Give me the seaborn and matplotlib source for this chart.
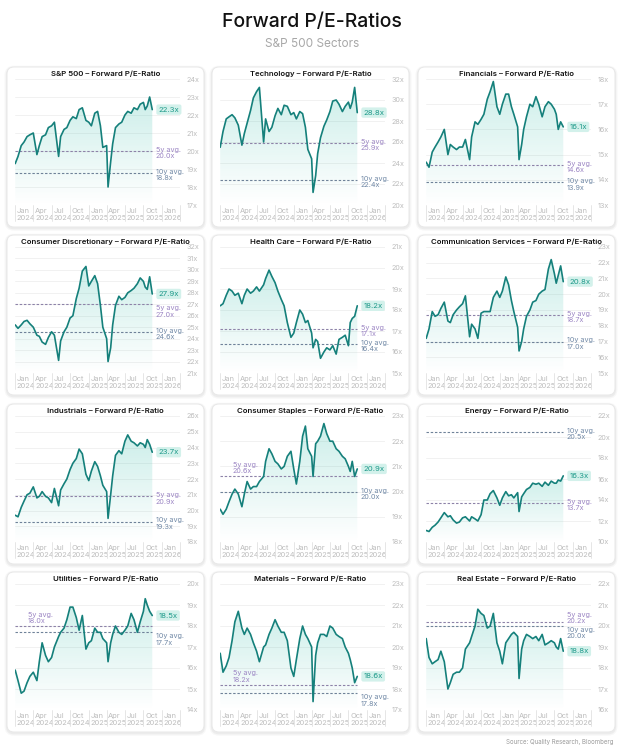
# ============================================================
# Forward P/E-Ratios of the S&P 500 sectors - small multiples
# ============================================================

import matplotlib
matplotlib.use("Agg")

import numpy as np
import pandas as pd
import matplotlib.pyplot as plt
import matplotlib.dates as mdates
from matplotlib.colors import to_rgb
from matplotlib.patches import FancyBboxPatch
from matplotlib.transforms import ScaledTranslation, blended_transform_factory
import seaborn as sns


# ============================================================
# 1. Data
# ============================================================

DATES = [
    "2024-01-02", "2024-01-16", "2024-02-01", "2024-02-15", "2024-03-01",
    "2024-03-15", "2024-04-01", "2024-04-19", "2024-05-01", "2024-05-15",
    "2024-06-01", "2024-06-15", "2024-07-01", "2024-07-15", "2024-08-05",
    "2024-08-15", "2024-09-01", "2024-09-15", "2024-10-01", "2024-10-15",
    "2024-11-01", "2024-11-15", "2024-12-01", "2024-12-19", "2025-01-02",
    "2025-01-15", "2025-02-01", "2025-02-15", "2025-03-01", "2025-03-13",
    "2025-04-01", "2025-04-08", "2025-04-21", "2025-05-01", "2025-05-15",
    "2025-06-01", "2025-06-15", "2025-07-01", "2025-07-15", "2025-08-01",
    "2025-08-15", "2025-09-01", "2025-09-15", "2025-10-01", "2025-10-10",
    "2025-10-20", "2025-11-01", "2025-11-14",
]

SP500 = [
    19.3, 19.7, 20.3, 20.5, 20.8, 20.9, 21.0, 19.8, 20.3, 20.8,
    20.9, 21.3, 21.4, 21.6, 19.7, 20.8, 21.2, 21.3, 21.7, 21.9,
    21.8, 22.3, 22.4, 21.7, 21.6, 21.4, 22.1, 22.2, 21.4, 20.2,
    20.3, 18.0, 19.4, 20.4, 21.3, 21.5, 21.6, 22.0, 22.2, 22.1,
    22.4, 22.3, 22.6, 22.7, 22.3, 22.5, 23.0, 22.3,
]
TECHNOLOGY = [
    25.5, 27.0, 28.2, 28.4, 28.6, 28.3, 27.6, 25.7, 26.8, 27.8,
    29.0, 30.2, 30.8, 31.2, 26.0, 28.2, 27.0, 27.4, 28.5, 29.2,
    28.6, 29.5, 29.4, 28.6, 28.8, 28.2, 28.9, 28.7, 27.4, 25.3,
    24.4, 21.2, 22.8, 24.9, 26.4, 27.5, 28.1, 28.9, 29.9, 30.0,
    29.6, 28.9, 29.4, 29.8, 29.2, 29.8, 31.2, 28.8,
]
FINANCIALS = [
    14.7, 14.5, 15.1, 15.3, 15.5, 15.7, 16.0, 15.0, 15.4, 15.3,
    15.2, 15.3, 15.3, 15.6, 14.8, 15.7, 16.3, 16.2, 16.4, 16.6,
    17.2, 17.5, 17.9, 16.9, 16.6, 17.0, 17.4, 17.4, 16.9, 16.6,
    16.1, 14.8, 15.4, 16.0, 16.5, 17.0, 16.9, 17.3, 17.0, 16.5,
    16.9, 17.1, 17.0, 16.8, 16.6, 16.0, 16.3, 16.1,
]
CONSUMER_DISCRETIONARY = [
    25.2, 24.9, 25.2, 25.5, 25.6, 25.3, 25.0, 24.3, 24.2, 23.7,
    23.5, 24.1, 24.6, 24.3, 22.1, 23.8, 24.6, 25.0, 25.8, 26.0,
    27.5, 28.4, 29.9, 30.3, 28.6, 29.0, 29.5, 28.8, 26.9, 25.0,
    24.0, 22.0, 23.2, 25.2, 26.9, 27.7, 27.4, 27.6, 28.0, 28.2,
    28.4, 28.8, 29.3, 29.0, 28.5, 28.3, 29.4, 27.9,
]
HEALTH_CARE = [
    18.2, 18.3, 18.7, 19.0, 18.9, 18.7, 18.8, 18.3, 18.7, 19.0,
    18.8, 18.9, 19.1, 18.9, 19.2, 19.5, 19.9, 19.6, 19.3, 18.9,
    18.5, 18.2, 17.4, 16.7, 16.9, 17.4, 18.0, 17.8, 17.4, 17.5,
    16.9, 16.2, 16.6, 16.5, 15.7, 16.0, 16.2, 16.1, 16.3, 15.9,
    16.6, 16.7, 16.8, 16.3, 17.4, 17.6, 17.7, 18.2,
]
COMMUNICATION_SERVICES = [
    17.2, 17.8, 18.9, 18.6, 18.7, 19.1, 19.5, 18.3, 18.2, 18.7,
    19.0, 19.2, 19.4, 19.9, 17.3, 18.1, 17.8, 17.2, 18.8, 18.9,
    18.9, 18.9, 19.8, 20.2, 19.8, 20.2, 21.1, 20.6, 19.6, 18.9,
    17.9, 16.4, 17.0, 17.8, 18.6, 19.0, 19.5, 19.6, 20.0, 20.2,
    20.3, 21.6, 22.2, 21.3, 20.7, 21.2, 21.8, 20.8,
]
INDUSTRIALS = [
    19.7, 19.6, 20.2, 20.6, 21.0, 21.1, 21.5, 20.8, 20.9, 21.2,
    20.9, 20.8, 20.5, 21.4, 20.3, 21.3, 21.7, 22.0, 22.6, 23.0,
    23.3, 23.9, 23.6, 22.3, 21.9, 22.5, 23.1, 22.8, 22.2, 21.6,
    21.2, 19.5, 21.0, 22.2, 23.5, 23.8, 23.6, 24.4, 24.8, 24.4,
    24.3, 24.1, 24.3, 24.2, 24.0, 24.5, 24.2, 23.7,
]
CONSUMER_STAPLES = [
    19.3, 19.1, 19.3, 19.6, 19.9, 20.1, 19.9, 19.4, 19.9, 20.4,
    20.1, 20.2, 20.2, 20.4, 20.6, 21.2, 21.7, 21.5, 21.2, 21.1,
    20.9, 21.0, 21.4, 21.6, 20.9, 20.3, 21.2, 22.2, 22.6, 21.7,
    21.4, 20.6, 21.9, 22.0, 22.2, 22.7, 22.3, 22.0, 22.0, 21.7,
    21.6, 21.4, 21.3, 21.0, 20.8, 21.2, 20.6, 20.9,
]
ENERGY = [
    11.1, 11.0, 11.4, 11.6, 11.9, 12.3, 12.8, 12.4, 12.5, 12.1,
    11.8, 11.9, 12.3, 12.4, 12.0, 12.4, 12.2, 12.0, 12.6, 14.0,
    14.0, 14.6, 14.9, 14.2, 13.5, 14.2, 14.8, 14.4, 14.5, 14.2,
    14.7, 12.9, 14.3, 14.6, 15.0, 15.2, 15.6, 15.5, 15.6, 15.3,
    15.7, 15.4, 15.8, 15.6, 15.6, 15.9, 15.8, 16.3,
]
UTILITIES = [
    15.9, 15.4, 14.8, 14.9, 15.3, 15.6, 15.8, 15.4, 16.3, 17.2,
    16.6, 16.3, 16.5, 17.0, 17.5, 17.7, 17.9, 18.3, 18.9, 18.9,
    18.4, 17.8, 18.5, 16.9, 17.2, 17.3, 17.9, 17.7, 17.7, 17.4,
    17.2, 16.3, 17.2, 17.6, 18.0, 17.7, 17.6, 17.8, 18.0, 18.6,
    18.3, 17.7, 18.2, 18.7, 19.3, 19.0, 18.7, 18.5,
]
MATERIALS = [
    19.7, 18.8, 19.1, 19.5, 20.3, 21.2, 21.7, 20.9, 20.6, 20.9,
    20.6, 20.2, 19.8, 19.3, 20.0, 20.1, 20.6, 20.9, 21.3, 21.0,
    20.7, 20.7, 20.3, 19.0, 18.6, 19.4, 20.4, 21.0, 20.6, 20.4,
    20.0, 17.4, 19.6, 20.2, 20.6, 20.6, 20.5, 21.0, 20.9, 20.6,
    20.5, 20.4, 20.0, 19.7, 19.4, 19.0, 18.3, 18.6,
]
REAL_ESTATE = [
    19.4, 18.5, 18.2, 18.3, 18.4, 18.8, 18.3, 17.0, 17.3, 17.7,
    17.8, 17.8, 18.0, 18.9, 19.2, 19.5, 20.0, 20.8, 20.6, 20.5,
    19.9, 20.0, 20.6, 19.2, 18.8, 18.2, 19.2, 19.4, 19.6, 19.7,
    19.5, 17.5, 18.9, 19.3, 19.6, 19.5, 19.4, 19.5, 19.3, 19.6,
    19.1, 19.2, 19.3, 19.2, 19.0, 18.9, 19.4, 18.8,
]

SECTORS = [
    "S&P 500", "Technology", "Financials",
    "Consumer Discretionary", "Health Care", "Communication Services",
    "Industrials", "Consumer Staples", "Energy",
    "Utilities", "Materials", "Real Estate",
]
SERIES = [
    SP500, TECHNOLOGY, FINANCIALS,
    CONSUMER_DISCRETIONARY, HEALTH_CARE, COMMUNICATION_SERVICES,
    INDUSTRIALS, CONSUMER_STAPLES, ENERGY,
    UTILITIES, MATERIALS, REAL_ESTATE,
]

FIVE_YEAR_AVG = [20.0, 25.9, 14.6, 27.0, 17.1, 18.7, 20.9, 20.6, 13.7, 18.0, 18.2, 20.2]
TEN_YEAR_AVG = [18.8, 22.4, 13.9, 24.6, 16.4, 17.0, 19.3, 20.0, 20.5, 17.7, 17.8, 20.0]

# y axis range and step per panel
Y_LOW = [17, 20, 13, 21, 15, 15, 18, 18, 10, 14, 17, 16]
Y_HIGH = [24, 32, 18, 32, 21, 23, 26, 23, 22, 20, 23, 22]
Y_STEP = [1, 2, 1, 1, 1, 1, 1, 1, 2, 1, 1, 1]

# where the average labels sit relative to their dashed line
FIVE_POS = ["mid", "mid", "mid", "below", "mid", "mid",
            "mid", "left", "mid", "left", "left", "above"]
TEN_POS = ["mid", "mid", "mid", "mid", "mid", "mid",
           "mid", "mid", "mid", "below", "below", "below"]

TICK_DATES = ["2024-01-01", "2024-04-01", "2024-07-01", "2024-10-01",
              "2025-01-01", "2025-04-01", "2025-07-01", "2025-10-01",
              "2026-01-01"]


# ============================================================
# 2. Styling
# ============================================================

sns.set_theme(style="white")
plt.rcParams["font.family"] = ["Inter", "DejaVu Sans"]

LINE_COLOR = "#15807b"
FILL_COLOR = "#3cbfac"
FIVE_LINE = "#8d82a8"
TEN_LINE = "#6f8299"
FIVE_TEXT = "#9c86c4"
TEN_TEXT = "#7189a6"
VALUE_TEXT = "#1f9a8a"
VALUE_BOX = "#d3f1eb"
TICK_TEXT = "#bdbdbd"
GRID = "#efefef"

W, H = 624, 749
CARD_LEFT = [7, 212, 418]
CARD_TOP = [67, 235, 404, 572]
CARD_W, CARD_H = 197, 160
AX_OFFSET = 8
AX_W = 165
AX_TOP, AX_BOTTOM = 12, 138

dates = pd.to_datetime(DATES)
tick_dates = pd.to_datetime(TICK_DATES)
x_left = pd.Timestamp("2024-01-01")
x_right = pd.Timestamp("2026-04-01")


# ============================================================
# 3. Figure and background cards
# ============================================================

fig = plt.figure(figsize=(W / 100, H / 100), dpi=100)
fig.patch.set_facecolor("white")

bg = fig.add_axes([0, 0, 1, 1], zorder=-1)
bg.set_xlim(0, W)
bg.set_ylim(H, 0)
bg.axis("off")

for top in CARD_TOP:
    for left in CARD_LEFT:
        for spread, alpha in [(2.5, 0.03), (1.2, 0.045)]:
            bg.add_patch(FancyBboxPatch(
                (left - spread, top - spread + 1.2),
                CARD_W + 2 * spread, CARD_H + 2 * spread,
                boxstyle=f"round,pad=0,rounding_size={7 + spread}",
                fc="black", ec="none", alpha=alpha
            ))
        bg.add_patch(FancyBboxPatch(
            (left, top), CARD_W, CARD_H,
            boxstyle="round,pad=0,rounding_size=7",
            fc="white", ec="#e8e8e8", lw=0.7
        ))

fig.text(0.5, 1 - 22 / H, "Forward P/E-Ratios", ha="center", va="center",
         fontsize=14, fontweight="medium", color="#111111")
fig.text(0.5, 1 - 44 / H, "S&P 500 Sectors", ha="center", va="center",
         fontsize=8.5, color="#a8a8a8")
fig.text(613 / W, 1 - 742 / H, "Source: Quality Research, Bloomberg",
         ha="right", va="center", fontsize=4.4, color="#9a9a9a")


# ============================================================
# 4. Helper: gradient fill under the line
# ============================================================

def gradient_fill(ax, x, y, ymin):
    poly = ax.fill_between(x, y, ymin, facecolor="none", edgecolor="none")
    xnum = mdates.date2num(x)
    grad = np.zeros((120, 1, 4))
    grad[:, :, :3] = to_rgb(FILL_COLOR)
    grad[:, 0, 3] = np.linspace(0.0, 0.26, 120)
    im = ax.imshow(grad, aspect="auto", origin="lower", zorder=1,
                   extent=[xnum.min(), xnum.max(), ymin, max(y)])
    im.set_clip_path(poly.get_paths()[0], transform=ax.transData)


# ============================================================
# 5. Panels
# ============================================================

for i, (name, values) in enumerate(zip(SECTORS, SERIES)):
    row, col = divmod(i, 3)
    card_left, card_top = CARD_LEFT[col], CARD_TOP[row]

    ax_left = card_left + AX_OFFSET
    ax_top = card_top + AX_TOP
    ax_bottom = card_top + AX_BOTTOM
    ax = fig.add_axes([ax_left / W, 1 - ax_bottom / H,
                       AX_W / W, (ax_bottom - ax_top) / H])
    ax.set_facecolor("none")

    df = pd.DataFrame({"date": dates, "pe": values})
    sns.lineplot(data=df, x="date", y="pe", color=LINE_COLOR,
                 linewidth=1.2, ax=ax, zorder=4)
    gradient_fill(ax, dates, values, Y_LOW[i])

    ax.set_xlim(x_left, x_right)
    ax.set_ylim(Y_LOW[i], Y_HIGH[i])
    ax.set_xlabel("")
    ax.set_ylabel("")

    # horizontal grid
    yticks = np.arange(Y_LOW[i], Y_HIGH[i] + 0.01, Y_STEP[i])
    ax.set_yticks(yticks)
    ax.set_yticklabels([f"{int(v)}x" for v in yticks])
    ax.yaxis.tick_right()
    ax.grid(axis="y", color=GRID, linewidth=0.6)
    ax.grid(axis="x", visible=False)
    for spine in ax.spines.values():
        spine.set_visible(False)
    ax.tick_params(axis="y", length=0, pad=4.5, labelsize=5.2, labelcolor=TICK_TEXT)

    # x ticks with separators
    ax.set_xticks(tick_dates)
    ax.set_xticklabels([d.strftime("%b\n%Y") for d in tick_dates],
                       linespacing=1.1)
    ax.tick_params(axis="x", length=0, pad=2.5, labelsize=5.4, labelcolor=TICK_TEXT)
    shift = ScaledTranslation(1.2 / 72, 0, fig.dpi_scale_trans)
    for lbl in ax.get_xticklabels():
        lbl.set_horizontalalignment("left")
        lbl.set_transform(lbl.get_transform() + shift)
    sep = blended_transform_factory(ax.transData, ax.transAxes)
    for d in list(tick_dates) + [x_right]:
        ax.plot([d, d], [0, -0.13], transform=sep, color="#e2e2e2",
                linewidth=0.6, clip_on=False)

    # 5y / 10y averages
    first, last = dates[0], dates[-1]
    for avg, pos, lc, tc, tag in [
        (FIVE_YEAR_AVG[i], FIVE_POS[i], FIVE_LINE, FIVE_TEXT, "5y"),
        (TEN_YEAR_AVG[i], TEN_POS[i], TEN_LINE, TEN_TEXT, "10y"),
    ]:
        ax.plot([first, last], [avg, avg], color=lc, linewidth=0.8,
                linestyle=(0, (2.2, 1.6)), zorder=3)
        label = f"{tag} avg.\n{avg:.1f}x"
        if pos == "left":
            ax.annotate(label, xy=(first, avg), xytext=(9, 1.5),
                        textcoords="offset points", ha="left", va="bottom",
                        fontsize=5.2, color=tc, linespacing=1.05)
        else:
            va, dy = {"mid": ("center", -1.5), "below": ("top", -0.8),
                      "above": ("center", 2.5)}[pos]
            ax.annotate(label, xy=(last, avg), xytext=(2.5, dy),
                        textcoords="offset points", ha="left", va=va,
                        fontsize=5.2, color=tc, linespacing=1.05)

    # current value label
    ax.annotate(f"{values[-1]:.1f}x", xy=(last, values[-1]), xytext=(4.5, 0),
                textcoords="offset points", ha="left", va="center",
                fontsize=5.6, color=VALUE_TEXT, zorder=6,
                bbox=dict(boxstyle="round,pad=0.28,rounding_size=0.25",
                          fc=VALUE_BOX, ec="none"))

    fig.text((card_left + CARD_W / 2) / W, 1 - (card_top + 7) / H,
             f"{name} – Forward P/E-Ratio", ha="center", va="center",
             fontsize=5.6, fontweight="semibold", color="#111111")


# ============================================================
# 6. Save
# ============================================================

fig.savefig("out.png", dpi=100)
plt.close(fig)
